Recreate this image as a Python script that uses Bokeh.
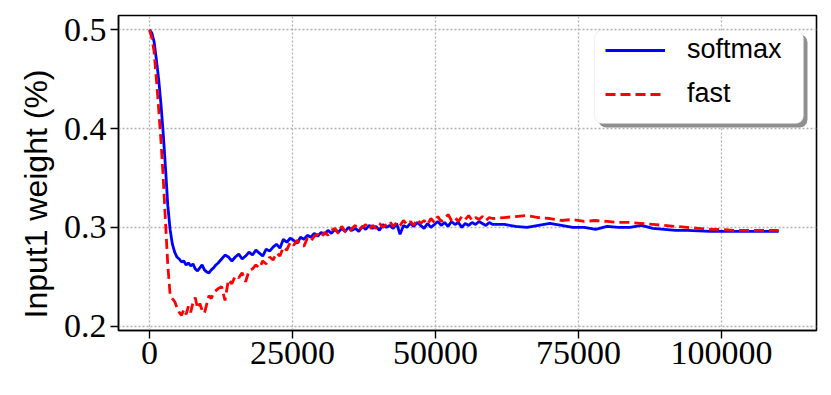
import numpy as np
from bokeh.plotting import figure
from bokeh.models import (Range1d, Legend, LegendItem, BoxAnnotation, Title,
                          FixedTicker, NumeralTickFormatter)
from bokeh.embed import file_html
from bokeh.resources import INLINE

# ---------------- data ----------------
steps_a = list(range(0, 12001, 400))        # 31 points
steps_b = list(range(12600, 60001, 600))    # 80 points
steps_c = list(range(62000, 110001, 2000))  # 25 points
steps = steps_a + steps_b + steps_c

softmax_a = [0.500, 0.497, 0.488, 0.470, 0.450, 0.425, 0.395, 0.360, 0.322, 0.298,
             0.283, 0.275, 0.270, 0.268, 0.265, 0.266, 0.262, 0.264, 0.261, 0.263,
             0.258, 0.256, 0.259, 0.262, 0.257, 0.255, 0.254, 0.257, 0.259, 0.262,
             0.264]
softmax_b = [0.268, 0.272, 0.270, 0.266, 0.270, 0.273, 0.268, 0.271, 0.275, 0.272,
             0.277, 0.274, 0.271, 0.278, 0.276, 0.280, 0.283, 0.279, 0.288, 0.285,
             0.289, 0.287, 0.284, 0.290, 0.288, 0.292, 0.290, 0.294, 0.291, 0.295,
             0.293, 0.297, 0.294, 0.298, 0.295, 0.299, 0.296, 0.300, 0.297, 0.299,
             0.296, 0.301, 0.298, 0.302, 0.299, 0.301, 0.297, 0.303, 0.300, 0.302,
             0.299, 0.304, 0.293, 0.302, 0.300, 0.304, 0.301, 0.305, 0.302, 0.299,
             0.304, 0.300, 0.303, 0.306, 0.302, 0.305, 0.301, 0.306, 0.303, 0.305,
             0.300, 0.304, 0.302, 0.305, 0.303, 0.306, 0.304, 0.302, 0.305, 0.303]
softmax_c = [0.303, 0.301, 0.300, 0.302, 0.304, 0.302, 0.300, 0.300, 0.298, 0.301,
             0.300, 0.300, 0.302, 0.299, 0.298, 0.297, 0.297, 0.2965, 0.296, 0.296,
             0.296, 0.296, 0.296, 0.296, 0.296]

fast_a = [0.500, 0.492, 0.478, 0.450, 0.420, 0.388, 0.350, 0.305, 0.262, 0.232,
          0.228, 0.225, 0.219, 0.214, 0.211, 0.217, 0.212, 0.220, 0.214, 0.224,
          0.229, 0.218, 0.223, 0.216, 0.213, 0.222, 0.231, 0.228, 0.234, 0.236,
          0.238]
fast_b = [0.240, 0.226, 0.247, 0.243, 0.251, 0.249, 0.254, 0.245, 0.256, 0.258,
          0.262, 0.259, 0.266, 0.263, 0.270, 0.267, 0.274, 0.271, 0.280, 0.277,
          0.285, 0.282, 0.287, 0.283, 0.281, 0.289, 0.286, 0.291, 0.293, 0.290,
          0.295, 0.292, 0.297, 0.299, 0.294, 0.301, 0.296, 0.294, 0.299, 0.302,
          0.297, 0.300, 0.303, 0.298, 0.302, 0.299, 0.304, 0.300, 0.303, 0.306,
          0.301, 0.305, 0.302, 0.307, 0.303, 0.306, 0.302, 0.308, 0.304, 0.307,
          0.303, 0.309, 0.305, 0.311, 0.306, 0.309, 0.313, 0.307, 0.310, 0.306,
          0.311, 0.308, 0.312, 0.307, 0.310, 0.308, 0.311, 0.307, 0.310, 0.309]
fast_c = [0.310, 0.311, 0.312, 0.310, 0.309, 0.307, 0.308, 0.306, 0.307, 0.306,
          0.305, 0.305, 0.304, 0.303, 0.302, 0.301, 0.300, 0.299, 0.298, 0.298,
          0.297, 0.297, 0.297, 0.297, 0.297]

softmax = softmax_a + softmax_b + softmax_c
fast = fast_a + fast_b + fast_c

series_labels = ["softmax", "fast"]
x_ticks = [0, 25000, 50000, 75000, 100000]
y_ticks = [0.2, 0.3, 0.4, 0.5]
y_label = "Input1 weight (%)"

# ---------------- layout ----------------
W, H = 831, 395
BL, BR, BT, BB = 118, 15, 15, 65
FW, FH = W - BL - BR, H - BT - BB
X0, X1 = -5420, 116608
Y0, Y1 = 0.19565, 0.51447

p = figure(width=W, height=H, output_backend="svg", toolbar_location=None,
           x_range=Range1d(X0, X1), y_range=Range1d(Y0, Y1),
           min_border_left=BL, min_border_right=BR, min_border_top=BT,
           min_border_bottom=BB)
p.background_fill_color = "white"
p.border_fill_color = "white"
p.outline_line_color = "black"
p.outline_line_width = 1.6
p.outline_line_alpha = 1.0

for ax in (p.xaxis, p.yaxis):
    ax.major_label_text_font = "Liberation Serif"
    ax.major_label_text_font_size = "34px"
    ax.major_label_text_color = "black"
    ax.axis_line_color = "black"
    ax.axis_line_width = 1.4
    ax.major_tick_line_color = "black"
    ax.major_tick_line_width = 1.4
    ax.major_tick_out = 8
    ax.major_tick_in = 0
    ax.minor_tick_line_color = None
p.xaxis.major_label_standoff = 3
p.yaxis.major_label_standoff = 4
p.xaxis.ticker = FixedTicker(ticks=x_ticks)
p.yaxis.ticker = FixedTicker(ticks=y_ticks)
p.xaxis.formatter = NumeralTickFormatter(format="0")
p.yaxis.formatter = NumeralTickFormatter(format="0.0")

p.grid.grid_line_color = "#b0b0b0"
p.grid.grid_line_width = 1.3
p.grid.grid_line_dash = "2 2"
p.xgrid.ticker = FixedTicker(ticks=x_ticks)
p.ygrid.ticker = FixedTicker(ticks=y_ticks)

r1 = p.line(steps, softmax, line_color="blue", line_width=2.8)
r2 = p.line(steps, fast, line_color="red", line_width=2.8, line_dash="10 5")

# legend frame with shadow (positions in page pixels converted to data)
FL, FT = BL, BT
def px2x(px):
    return X0 + (px - FL) / FW * (X1 - X0)
def py2y(py):
    return Y1 - (py - FT) / FH * (Y1 - Y0)

bx0, bx1, by0, by1 = 594, 803, 30, 123
shadow = BoxAnnotation(left=px2x(bx0 + 4), right=px2x(bx1 + 4),
                       top=py2y(by0 + 4), bottom=py2y(by1 + 4),
                       fill_color="#8f8f8f", fill_alpha=1.0, line_color=None,
                       border_radius=8)
box = BoxAnnotation(left=px2x(bx0), right=px2x(bx1), top=py2y(by0), bottom=py2y(by1),
                    fill_color="white", fill_alpha=1.0, line_color="#cfcfcf",
                    line_width=1.2, border_radius=8)
p.add_layout(shadow)
p.add_layout(box)

legend = Legend(items=[LegendItem(label=series_labels[0], renderers=[r1]),
                       LegendItem(label=series_labels[1], renderers=[r2])],
                location=(605 - FL, FH - (36 - FT) - 73),
                padding=0, margin=0, spacing=13,
                glyph_width=60, glyph_height=30, label_height=30,
                label_standoff=22, label_text_font="Liberation Sans",
                label_text_font_size="27px", label_text_color="black",
                background_fill_alpha=0, border_line_alpha=0)
p.add_layout(legend, "center")

ylab = Title(text=y_label, align="left", offset=12, standoff=14,
             text_font="Liberation Sans", text_font_size="32px",
             text_font_style="normal", text_color="black")
p.add_layout(ylab, "left")

open("out.html", "w").write(file_html(p, INLINE))
